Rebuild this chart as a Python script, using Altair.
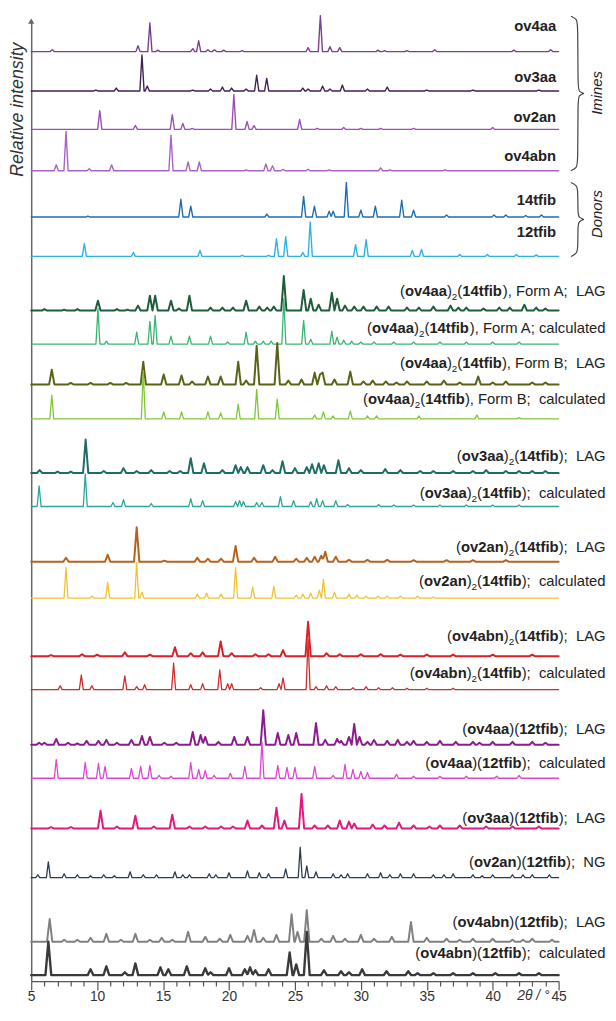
import altair as alt
import pandas as pd

# ---------------- data ----------------
# each trace: list of (2theta, peak height above its own baseline)
P_ov4aa = [(6.6, 2), (13.1, 6), (14.0, 29), (14.6, 1.5), (17.25, 3), (17.7, 11), (18.4, 2), (18.9, 2), (19.6, 1.5),
           (21.0, 1), (26.0, 4), (26.93, 36.6), (27.66, 5), (28.4, 4), (31.3, 1.5), (31.8, 1), (33.5, 1), (35.6, 2),
           (41.6, 1.5), (44.4, 2)]
P_ov3aa = [(9.9, 1), (11.45, 3), (13.4, 36.6), (13.8, 5), (17.25, 1), (18.6, 2), (19.5, 4), (20.2, 3), (21.3, 2),
           (22.1, 16), (22.86, 12.7), (25.6, 3), (26.0, 2), (27.1, 5), (27.66, 2), (28.6, 6), (30.5, 2), (32.0, 4),
           (35.0, 1), (38.5, 1), (43.5, 1)]
P_ov2an = [(10.2, 19), (12.9, 4), (15.7, 15), (16.5, 6), (17.2, 1), (20.37, 35.6), (21.37, 8), (21.9, 4),
           (25.36, 10), (26.7, 1), (28.7, 2), (30.0, 1), (31.5, 1), (34.0, 1), (40.0, 2)]
P_ov4abn = [(6.9, 6), (7.64, 40), (9.4, 2), (11.1, 6), (15.6, 36), (16.9, 9), (17.75, 9), (21.3, 1), (22.8, 7),
            (23.3, 5), (24.1, 1.5), (26.0, 1.5), (27.6, 1), (31.5, 3), (32.2, 1), (36.4, 1)]
P_14tfib = [(9.3, 1), (16.35, 18), (17.1, 11), (22.87, 3), (25.66, 21), (26.48, 11), (27.6, 6), (27.9, 6),
            (28.9, 35), (30.0, 7), (31.1, 11), (33.1, 17), (34.0, 7), (36.5, 2), (40.1, 2), (41.0, 2), (42.5, 1.5),
            (43.7, 2)]
P_12tfib = [(9.03, 13), (12.75, 4), (17.8, 6), (21.0, 1), (23.0, 1), (23.6, 18), (24.3, 20), (25.6, 4),
            (26.16, 35), (29.6, 12), (30.4, 17), (33.9, 6), (34.6, 7), (37.5, 2), (39.6, 2), (41.8, 2), (43.3, 1.5)]
P_A_lag = [(6.0, 1.5), (7.5, 1), (8.5, 1.5), (10.06, 10), (11.5, 1.5), (12.3, 1), (13.1, 5), (14.0, 15),
           (14.4, 15), (15.6, 10), (16.2, 2), (17.0, 15), (18.6, 3), (19.5, 3), (20.3, 3), (21.3, 10), (22.3, 4),
           (22.9, 3), (23.4, 4), (24.16, 35), (25.66, 21), (26.2, 12), (26.8, 6), (27.8, 18), (28.2, 12),
           (28.8, 5), (29.5, 4), (30.2, 4), (31.2, 4), (32.1, 4), (33.5, 3), (34.4, 3), (35.5, 4), (36.8, 5),
           (37.4, 3), (38.0, 3), (39.3, 2), (40.5, 3), (41.3, 3), (42.4, 6), (43.3, 3), (44.0, 2)]
P_A_calc = [(10.06, 36), (10.7, 3), (13.0, 12), (14.0, 23), (14.4, 29), (15.6, 8), (17.0, 8), (18.6, 8),
            (19.9, 2), (21.3, 12), (22.0, 3), (22.6, 3), (23.2, 3), (24.16, 46), (25.66, 24), (26.2, 5),
            (27.8, 13), (28.2, 7), (28.7, 4), (29.3, 3), (30.0, 2), (31.0, 2), (32.5, 2), (34.0, 2), (36.0, 2),
            (38.0, 2), (40.0, 2), (42.0, 2)]
P_B_lag = [(6.56, 15), (8.0, 1.5), (9.5, 1.5), (11.0, 1.5), (12.2, 1.5), (13.5, 23), (15.05, 10), (16.4, 9),
           (17.2, 3), (18.4, 8), (19.37, 8), (20.7, 23), (21.3, 4), (22.1, 39), (23.66, 42), (24.5, 4), (25.5, 5),
           (26.5, 12), (26.9, 10), (27.1, 12), (28.0, 5), (29.2, 13), (30.2, 3), (30.9, 4), (31.9, 3), (32.7, 2),
           (33.5, 3), (35.0, 3), (36.3, 4), (37.5, 2), (38.9, 8), (40.0, 2), (41.0, 3), (43.0, 2), (44.0, 2)]
P_B_calc = [(6.56, 24), (13.5, 49), (15.05, 7), (16.4, 7), (18.4, 7), (19.37, 6), (20.7, 15), (22.1, 30),
            (23.66, 20), (26.5, 4), (27.16, 7), (27.9, 3), (29.2, 8), (30.5, 3), (31.2, 3), (34.4, 3), (38.8, 4),
            (42.0, 1.5)]
P_3_lag = [(5.64, 3), (7.0, 1.5), (8.0, 1.5), (9.13, 34), (10.5, 2), (12.0, 5), (13.0, 2), (14.1, 3), (15.5, 2),
           (16.3, 2), (17.1, 15), (18.1, 10), (19.5, 3), (20.5, 8), (20.9, 6), (21.4, 6), (22.6, 8), (23.3, 3),
           (24.06, 12), (25.0, 5), (25.9, 6), (26.3, 9), (26.8, 10), (27.2, 8), (28.3, 13), (29.1, 5), (30.0, 3),
           (31.85, 4), (33.0, 3), (34.5, 2), (35.5, 2), (37.0, 2), (38.5, 2), (39.5, 3), (41.0, 2), (42.0, 2),
           (43.0, 2), (44.0, 2)]
P_3_calc = [(5.6, 21), (9.1, 33), (11.2, 4), (12.0, 7), (14.1, 3), (17.1, 8), (18.0, 6), (20.5, 5), (20.8, 6),
            (21.1, 5), (22.1, 4), (22.5, 4), (23.9, 10), (24.9, 6), (26.2, 5), (26.65, 8), (27.1, 6), (28.1, 6),
            (29.0, 2), (31.35, 2), (32.5, 1.5), (34.0, 1.5), (36.0, 1.5), (38.0, 1.5), (40.0, 1.5), (42.0, 1.5)]
P_2_lag = [(7.64, 4), (10.8, 7), (13.0, 35), (15.1, 1), (17.6, 4), (18.4, 3), (19.4, 3), (20.5, 16), (21.9, 4),
           (23.5, 5), (25.1, 3), (25.9, 4), (26.5, 5), (27.0, 6), (27.3, 10), (28.1, 5), (29.1, 2), (30.5, 2),
           (32.0, 2), (34.0, 1.5), (36.5, 1.5), (38.5, 1.5), (41.0, 1.5)]
P_2_calc = [(7.64, 31), (9.6, 2), (10.8, 16), (13.0, 36), (13.4, 6), (17.6, 4), (18.3, 5), (19.4, 4), (20.5, 31),
            (21.8, 11), (23.4, 12), (25.1, 3), (25.6, 4), (26.2, 5), (26.85, 8), (27.16, 19), (28.0, 6), (29.1, 4),
            (29.7, 3), (30.4, 2), (31.3, 2), (32.0, 2), (33.0, 2), (34.3, 2), (35.5, 1)]
P_4b_lag = [(6.5, 1), (8.86, 2), (10.0, 1.5), (12.1, 4), (14.0, 1.5), (15.9, 9), (17.1, 3), (18.0, 4),
            (19.37, 15), (20.2, 3), (22.0, 2), (23.0, 2), (24.1, 6), (26.0, 35), (27.4, 3), (28.4, 2), (30.0, 2),
            (31.5, 2), (33.0, 1.5), (35.0, 1.5), (37.0, 1.5), (40.0, 1.5), (43.0, 1.5)]
P_4b_calc = [(7.2, 4), (8.8, 15), (9.6, 4), (12.1, 14), (13.0, 3), (13.6, 5), (15.8, 27), (17.1, 5), (18.0, 6),
             (19.3, 20), (19.9, 6), (20.2, 6), (22.4, 2), (23.8, 6), (24.1, 12), (26.0, 51), (26.6, 3), (27.4, 4),
             (28.1, 3), (29.4, 2), (30.4, 3), (31.35, 2), (32.4, 2), (33.5, 1.5), (35.0, 1.5), (37.0, 1.5)]
P_4a12_lag = [(5.6, 2), (6.0, 2), (6.9, 6), (7.8, 2), (8.5, 1.5), (9.2, 4), (10.1, 4), (10.7, 5), (11.5, 2),
              (12.6, 5), (13.4, 9), (14.0, 8), (15.1, 2), (16.0, 2), (17.25, 13), (17.85, 10), (18.2, 8),
              (19.2, 3), (20.4, 8), (21.4, 8), (22.6, 35), (23.7, 12), (24.5, 10), (25.1, 12), (26.6, 22),
              (27.3, 5), (28.2, 6), (28.5, 4), (29.1, 8), (29.5, 21), (29.9, 8), (30.5, 3), (31.0, 5), (32.0, 4),
              (32.8, 5), (33.5, 3), (34.0, 4), (35.0, 3), (36.0, 4), (37.2, 3), (38.5, 3), (39.0, 2), (40.0, 3),
              (41.5, 3), (43.0, 3), (44.0, 2)]
P_4a12_calc = [(6.9, 19), (9.1, 16), (10.1, 15), (10.6, 12), (12.6, 10), (13.3, 12), (14.0, 13), (14.7, 3),
               (15.6, 2), (17.1, 16), (17.7, 9), (18.2, 8), (18.87, 3), (20.1, 5), (21.2, 12), (22.5, 37),
               (23.7, 13), (24.4, 11), (25.0, 11), (26.5, 12), (27.9, 3), (28.8, 14), (29.4, 9), (30.0, 7),
               (30.5, 6), (32.7, 4), (34.0, 2), (36.0, 2), (38.0, 2), (40.3, 2), (42.0, 3)]
P_3a12_lag = [(6.5, 1.5), (8.0, 1.5), (10.26, 18), (11.5, 2), (12.9, 13), (14.3, 2), (15.7, 14), (17.0, 2),
              (18.2, 2), (19.4, 2), (20.3, 2), (21.4, 8), (22.5, 3), (23.6, 21), (24.2, 8), (25.5, 35), (26.5, 3),
              (27.5, 3), (28.4, 8), (29.1, 7), (29.5, 5), (30.9, 4), (31.8, 3), (32.9, 6), (34.0, 3), (35.2, 2),
              (36.0, 3), (37.5, 3), (39.5, 2), (41.5, 2), (43.5, 2)]
P_2a12_ng = [(5.5, 3), (6.3, 16), (7.5, 4), (8.5, 3), (9.5, 2), (10.5, 3), (11.3, 2), (12.5, 6), (13.5, 3),
             (14.5, 3), (15.9, 6), (16.5, 3), (17.0, 3), (18.5, 4), (19.0, 3), (20.0, 5), (21.4, 7), (22.3, 5),
             (23.0, 4), (24.3, 9), (25.4, 31), (25.9, 12), (26.6, 6), (27.9, 4), (28.5, 3), (29.0, 4), (30.5, 4),
             (31.5, 5), (32.2, 3), (33.0, 4), (34.0, 4), (35.5, 3), (36.3, 3), (37.0, 4), (38.5, 3), (39.2, 2),
             (40.0, 3), (41.5, 3), (42.3, 3), (43.0, 3), (44.3, 3)]
P_4b12_lag = [(6.4, 23), (7.5, 2), (8.5, 2), (9.5, 4), (10.7, 8), (11.8, 2), (12.9, 8), (14.0, 2), (14.9, 4),
              (15.7, 2), (16.9, 10), (18.2, 5), (19.3, 3), (20.1, 7), (21.4, 6), (21.9, 12), (22.6, 4), (23.6, 7),
              (24.75, 28), (25.2, 10), (25.9, 32), (27.0, 3), (27.9, 6), (28.8, 3), (30.0, 7), (31.0, 3),
              (32.35, 5), (33.8, 20), (35.0, 4), (36.5, 3), (37.5, 2), (38.5, 3), (40.0, 3), (41.5, 2), (42.3, 2),
              (43.0, 3), (44.5, 2)]
P_4b12_calc = [(6.3, 34), (9.5, 6), (10.7, 9), (12.1, 3), (12.9, 12), (14.8, 8), (15.4, 6), (16.8, 9), (18.2, 7),
               (18.6, 3), (20.0, 7), (21.2, 6), (21.6, 8), (22.0, 5), (23.0, 6), (24.6, 23), (25.1, 11), (25.9, 44),
               (27.2, 5), (28.5, 4), (29.1, 3), (30.1, 6), (31.95, 4), (33.6, 4), (34.3, 2), (35.5, 2), (37.0, 2),
               (38.5, 2), (40.2, 2), (42.0, 2), (43.5, 2)]

trace_ids = ["ov4aa", "ov3aa", "ov2an", "ov4abn", "14tfib", "12tfib",
             "A_lag", "A_calc", "B_lag", "B_calc", "3_lag", "3_calc", "2_lag", "2_calc",
             "4b_lag", "4b_calc", "4a12_lag", "4a12_calc", "3a12_lag", "2a12_ng", "4b12_lag", "4b12_calc"]
trace_peaks = [P_ov4aa, P_ov3aa, P_ov2an, P_ov4abn, P_14tfib, P_12tfib,
               P_A_lag, P_A_calc, P_B_lag, P_B_calc, P_3_lag, P_3_calc, P_2_lag, P_2_calc,
               P_4b_lag, P_4b_calc, P_4a12_lag, P_4a12_calc, P_3a12_lag, P_2a12_ng, P_4b12_lag, P_4b12_calc]
trace_kind = ["ref"] * 6 + ["lag", "calc"] * 7 + ["lag", "ng", "lag", "calc"]
# vertical stacking offset of each trace (relative intensity units)
trace_offset = [944, 904, 865, 823, 776, 736, 681, 647, 606, 571, 516, 482, 426, 389,
                330, 296, 240, 206, 155, 105, 40, 6]
trace_colors = ["#7b3f91", "#40204f", "#9b50b6", "#a862c8", "#1e6db2", "#2cb2e6",
                "#1f5c3a", "#38b56f", "#5b6216", "#7dc934", "#1e6c66", "#2ba59c", "#b6621e", "#f1c232",
                "#da1f27", "#cf2d2c", "#8a1c8d", "#e044d4", "#e3177f", "#2a3c4f", "#808080", "#3a3a3a"]

top_labels = ["*ov4aa*", "*ov3aa*", "*ov2an*", "*ov4abn*", "*14tfib*", "*12tfib*"]
bottom_labels = ["(*ov4aa*)_2(*14tfib*), Form A;  LAG", "(*ov4aa*)_2(*14tfib*), Form A; calculated",
                 "(*ov4aa*)_2(*14tfib*), Form B;  LAG", "(*ov4aa*)_2(*14tfib*), Form B;  calculated",
                 "(*ov3aa*)_2(*14tfib*);  LAG", "(*ov3aa*)_2(*14tfib*);  calculated",
                 "(*ov2an*)_2(*14tfib*);  LAG", "(*ov2an*)_2(*14tfib*);  calculated",
                 "(*ov4abn*)_2(*14tfib*);  LAG", "(*ov4abn*)_2(*14tfib*);  calculated",
                 "(*ov4aa*)(*12tfib*);  LAG", "(*ov4aa*)(*12tfib*);  calculated",
                 "(*ov3aa*)(*12tfib*);  LAG", "(*ov2an*)(*12tfib*);  NG",
                 "(*ov4abn*)(*12tfib*);  LAG", "(*ov4abn*)(*12tfib*);  calculated"]
group_labels = ["Imines", "Donors"]
tick_values = list(range(5, 46))

# ---------------- layout helpers (reference pixel frame) ----------------
PX0, PXW = 31.5, 534.0          # 5 deg and width of 40 deg in px
Y0 = 993.0                       # x-axis line in px


def th(px):
    return 5 + (px - PX0) / (PXW / 40)


def iv(py):
    return Y0 - py


top_label_y = [28, 80, 120, 160, 205, 237]
bottom_label_y = [297, 335, 370, 407, 465, 502, 557, 592, 648, 685, 742, 777, 832, 877, 938, 970]

FONT = "Liberation Sans"
FS = 15
REG = {' ': 278, '\u00a0': 278, '(': 333, ')': 333, ',': 278, ';': 278, 'A': 667, 'B': 667, 'F': 611, 'G': 778,
       'L': 556, 'N': 722, 'a': 556, 'b': 556, 'c': 500, 'd': 556, 'e': 556, 'f': 278, 'i': 222, 'l': 222,
       'm': 833, 'n': 556, 'o': 556, 'r': 333, 't': 278, 'u': 556, 'v': 500}
BOLD = {'a': 556, 'b': 611, 'f': 333, 'i': 278, 'n': 611, 'o': 611, 't': 333, 'v': 556}
SUB = 0.667


def width(txt, style):
    if style == "b":
        return sum(BOLD.get(c, 556) for c in txt) / 1000 * FS
    if style == "s":
        return sum(REG.get(c, 556) for c in txt) / 1000 * FS * SUB
    return sum(REG.get(c, 556) for c in txt) / 1000 * FS


def parse(markup):
    segs, bold, i = [], False, 0
    while i < len(markup):
        c = markup[i]
        if c == "*":
            bold = not bold
            i += 1
            continue
        if c == "_":
            segs.append(["s", markup[i + 1]])
            i += 2
            continue
        st = "b" if bold else "n"
        if segs and segs[-1][0] == st:
            segs[-1][1] += c
        else:
            segs.append([st, c])
        i += 1
    return segs


def layout(markup, right_px, base_py, rows):
    right = right_px
    for st, txt in reversed(parse(markup)):
        w = width(txt, st)
        trail = len(txt) - len(txt.rstrip(" "))
        shown = txt.strip(" ").replace("  ", "\u00a0 ")
        rows.append({"theta": th(right - width(" " * trail, st)), "I": iv(base_py), "text": shown, "st": st})
        right -= w


# ---------------- traces ----------------
HALF = {"ref": 0.16, "calc": 0.15, "lag": 0.2, "ng": 0.22}
SW = {"ref": 1.4, "calc": 1.3, "lag": 2.0, "ng": 2.4}
rows = []
for tid, peaks, kind, off in zip(trace_ids, trace_peaks, trace_kind, trace_offset):
    hw = HALF[kind]
    xs = {5.0, 45.0}
    for p, h in peaks:
        xs.update([p - hw, p, p + hw])
    for x in sorted(v for v in xs if 5 <= v <= 45):
        val = 0.0
        for p, h in peaks:
            d = abs(x - p)
            if d < hw:
                val += h * (1 - d / hw)
        rows.append({"trace": tid, "theta": x, "I": off + val, "sw": SW[kind]})
df = pd.DataFrame(rows)

xs_ = alt.Scale(domain=[5, 45], nice=False, zero=False)
ys_ = alt.Scale(domain=[0, 975], nice=False, zero=False)

x_axis = alt.Axis(values=tick_values, labelExpr="datum.value % 5 === 0 ? datum.label : ''",
                  tickSize={"condition": {"test": "datum.value % 5 === 0", "value": 9}, "value": 5},
                  grid=False, domainColor="#555", tickColor="#555", domainWidth=1.2, tickWidth=1.2,
                  labelFont=FONT, labelFontSize=14, labelColor="#333", labelPadding=0,
                  labelFlush=False, labelOverlap=False, title=None)
y_axis = alt.Axis(labels=False, ticks=False, grid=False, domainColor="#666", domainWidth=1.5, title=None)


def X(field="theta:Q"):
    return alt.X(field, scale=xs_, axis=x_axis)


def Y(field="I:Q"):
    return alt.Y(field, scale=ys_, axis=y_axis)


lines = alt.Chart(df).mark_line(strokeJoin="round", strokeCap="round").encode(
    x=X(), y=Y(),
    color=alt.Color("trace:N", scale=alt.Scale(domain=trace_ids, range=trace_colors), legend=None),
    strokeWidth=alt.StrokeWidth("sw:Q", scale=None),
    detail="trace:N",
)

# ---------------- labels ----------------
lab_rows = []
for m, py in zip(top_labels, top_label_y):
    layout(m, 563, py, lab_rows)
for m, py in zip(bottom_labels, bottom_label_y):
    layout(m, 613, py, lab_rows)
lab = pd.DataFrame(lab_rows)


def text_layer(style, **kw):
    return alt.Chart(lab[lab["st"] == style]).mark_text(
        align="right", baseline="alphabetic", font=FONT, color="#222", **kw).encode(
        x=X(), y=Y(), text="text:N")


t_norm = text_layer("n", fontSize=FS)
t_bold = text_layer("b", fontSize=FS, fontWeight="bold")
t_sub = text_layer("s", fontSize=round(FS * SUB, 1), dy=4)

# braces
br_rows = []
for gi, (top, bot) in enumerate([(13, 170), (182, 257)]):
    mid = (top + bot) / 2
    pts = [(578, top), (584, top + 3), (585, top + 8), (585, mid - 6), (586, mid - 2), (591, mid), (591, mid),
           (586, mid + 2), (585, mid + 6), (585, bot - 8), (584, bot - 3), (578, bot)]
    for k, (px, py) in enumerate(pts):
        br_rows.append({"g": gi, "k": k, "theta": th(px), "I": iv(py)})
braces = alt.Chart(pd.DataFrame(br_rows)).mark_line(interpolate="basis", color="#444", strokeWidth=1.2).encode(
    x=X(), y=Y(), detail="g:N", order="k:Q")

grp = pd.DataFrame({"text": group_labels, "theta": [th(604), th(604)], "I": [iv(91), iv(214)]})
grp_t = alt.Chart(grp).mark_text(angle=270, align="center", baseline="middle", font=FONT, fontSize=15,
                                 fontStyle="italic", color="#222").encode(x=X(), y=Y(), text="text:N")

titles = pd.DataFrame({"text": ["Relative intensity"], "theta": [th(18)], "I": [iv(108)]})
ytitle = alt.Chart(titles).mark_text(angle=270, align="center", baseline="middle", font=FONT, fontSize=18,
                                     fontStyle="italic", color="#333").encode(x=X(), y=Y(), text="text:N")

xt = pd.DataFrame({"text": ["2\u03b8 / \u00b0"], "theta": [th(540)], "I": [iv(1012)]})
xtitle = alt.Chart(xt).mark_text(align="center", baseline="alphabetic", font=FONT, fontSize=14,
                                 fontStyle="italic", color="#333").encode(x=X(), y=Y(), text="text:N")

arrow = alt.Chart(pd.DataFrame({"theta": [5], "I": [975]})).mark_point(
    shape="triangle-up", filled=True, size=40, color="#666", opacity=1).encode(x=X(), y=Y())

chart = alt.layer(lines, braces, t_norm, t_bold, t_sub, grp_t, ytitle, xtitle, arrow).properties(
    width=534, height=972,
    padding={"left": 23.5, "top": 7, "right": 50, "bottom": 21},
    autosize=alt.AutoSizeParams(type="none"),
    background="white",
).configure_view(stroke=None)

chart.save("out.html", embed_options={"renderer": "svg", "actions": False})
